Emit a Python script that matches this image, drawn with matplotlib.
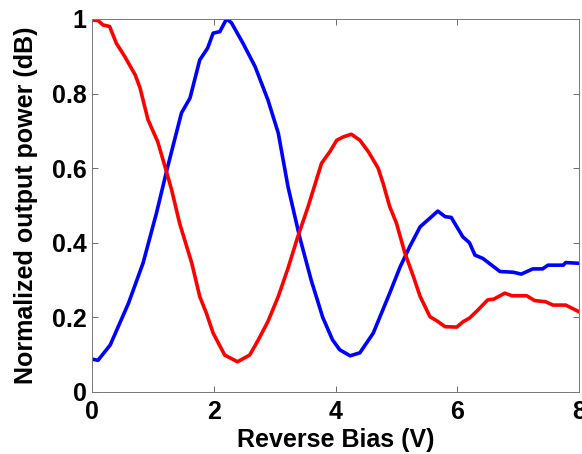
import matplotlib.pyplot as plt
from matplotlib.ticker import FuncFormatter

# blue trace: (V, normalized power)
blue_v = [0.0, 0.1, 0.3, 0.6, 0.84, 1.06, 1.23, 1.47, 1.61, 1.77, 1.9, 1.99, 2.1,
          2.21, 2.29, 2.48, 2.68, 2.89, 3.06, 3.22, 3.41, 3.6, 3.79, 3.95,
          4.07, 4.24, 4.4, 4.62, 4.89, 5.06, 5.22, 5.39, 5.55, 5.68, 5.8, 5.9,
          6.09, 6.2, 6.29, 6.42, 6.7, 6.92, 7.05, 7.24, 7.4, 7.49, 7.74, 7.78, 8.0]
blue_p = [0.088, 0.085, 0.126, 0.238, 0.346, 0.48, 0.595, 0.748, 0.788, 0.89, 0.922,
          0.962, 0.966, 1.0, 0.99, 0.935, 0.872, 0.783, 0.694, 0.55, 0.416, 0.30,
          0.2, 0.14, 0.113, 0.097, 0.105, 0.158, 0.265, 0.335, 0.39, 0.443, 0.466,
          0.485, 0.47, 0.468, 0.416, 0.4, 0.367, 0.358, 0.323, 0.321, 0.316, 0.33,
          0.33, 0.34, 0.34, 0.347, 0.345]

# red trace
red_v = [0.0, 0.1, 0.18, 0.29, 0.4, 0.54, 0.71, 0.79, 0.92, 1.08, 1.2, 1.31, 1.44,
         1.64, 1.77, 1.88, 1.99, 2.18, 2.39, 2.59, 2.73, 2.89, 3.06, 3.22, 3.38,
         3.55, 3.77, 3.91, 4.02, 4.13, 4.26, 4.4, 4.54, 4.7, 4.78, 4.89, 5.0, 5.14,
         5.28, 5.39, 5.55, 5.68, 5.8, 5.99, 6.1, 6.2, 6.34, 6.5, 6.6, 6.78, 6.9,
         7.14, 7.27, 7.45, 7.57, 7.78, 8.0]
red_p = [0.997, 0.996, 0.984, 0.98, 0.935, 0.899, 0.85, 0.815, 0.73, 0.671, 0.604,
         0.541, 0.452, 0.345, 0.256, 0.211, 0.158, 0.099, 0.081, 0.099, 0.139,
         0.189, 0.256, 0.332, 0.416, 0.497, 0.613, 0.645, 0.675, 0.684, 0.691,
         0.675, 0.644, 0.6, 0.56, 0.497, 0.453, 0.372, 0.309, 0.256, 0.202, 0.189,
         0.175, 0.174, 0.189, 0.198, 0.22, 0.247, 0.249, 0.265, 0.258, 0.258,
         0.245, 0.242, 0.233, 0.233, 0.215]

x_ticks = [0, 2, 4, 6, 8]
y_ticks = [0, 0.2, 0.4, 0.6, 0.8, 1]

plt.rcParams['font.family'] = ['Liberation Sans', 'DejaVu Sans']
plt.rcParams['font.weight'] = 'bold'

fig = plt.figure(figsize=(5.82, 4.54), dpi=100)
ax = fig.add_axes([0.158, 0.1366, 0.837, 0.8216])

ax.plot(blue_v, blue_p, color='#0000ff', lw=2.6)
ax.plot(red_v, red_p, color='#ff0000', lw=2.6)

ax.set_xlim(0, 8)
ax.set_ylim(0, 1)
ax.set_xticks(x_ticks)
ax.set_yticks(y_ticks)
ax.yaxis.set_major_formatter(FuncFormatter(lambda v, p: f'{v:g}'))
ax.tick_params(direction='in', top=True, right=True, length=4, width=0.6,
               color='#555555', labelsize=18)
ax.tick_params(axis='x', pad=6)
ax.tick_params(axis='y', pad=4)
for s in ax.spines.values():
    s.set_color('#777777')
    s.set_linewidth(0.7)

ax.set_xlabel('Reverse Bias (V)', fontsize=18, fontweight='bold', labelpad=3)
ax.set_ylabel('Normalized output power (dB)', fontsize=18, fontweight='bold', labelpad=10)

fig.savefig('out.png', dpi=100)
